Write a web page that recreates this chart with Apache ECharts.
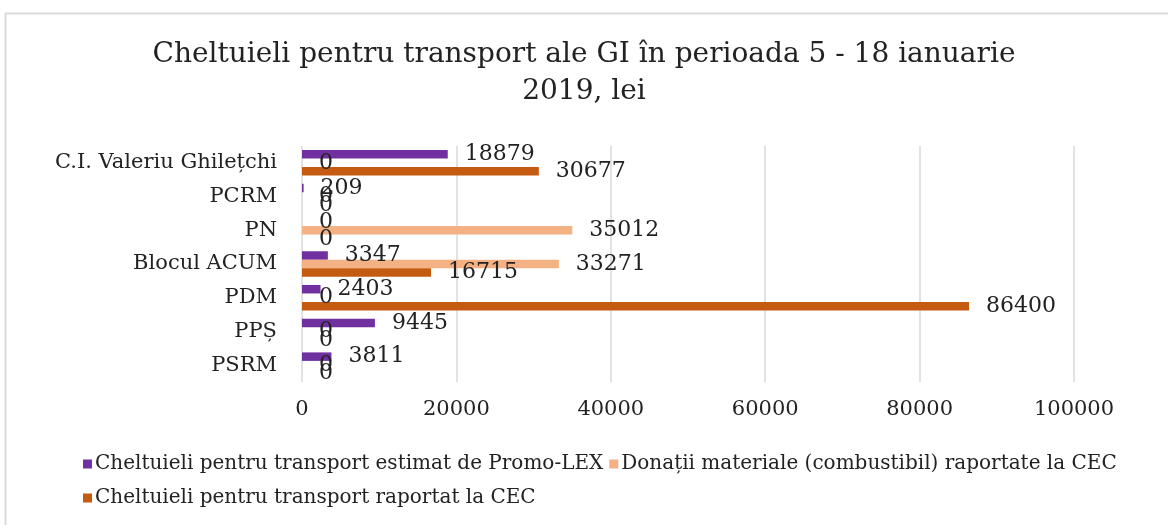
<!DOCTYPE html>
<html>
<head>
<meta charset="utf-8">
<script src="https://cdn.jsdelivr.net/npm/echarts@6/dist/echarts.min.js"></script>
<style>
  html, body { margin: 0; padding: 0; background: #fff; }
  #chart { width: 1168px; height: 525px; }
</style>
</head>
<body>
<div id="chart"></div>
<script>
var categories = ['PSRM', 'PPȘ', 'PDM', 'Blocul ACUM', 'PN', 'PCRM', 'C.I. Valeriu Ghilețchi'];
var estimatPromoLex = [3811, 9445, 2403, 3347, 0, 209, 18879];
var donatiiCombustibil = [0, 0, 0, 33271, 35012, 0, 0];
var raportatCEC = [0, 0, 86400, 16715, 0, 0, 30677];
var xTicks = [0, 20000, 40000, 60000, 80000, 100000];

var names = [
    'Cheltuieli pentru transport estimat de Promo-LEX',
    'Donații materiale (combustibil) raportate la CEC',
    'Cheltuieli pentru transport raportat la CEC'
];
var colors = ['#7030a0', '#f4b183', '#c55a11'];
var serif = '"DejaVu Serif", serif';

var myChart = echarts.init(document.getElementById('chart'));

function makeSeries(idx, data) {
    return {
        name: names[idx],
        type: 'bar',
        data: data,
        barWidth: 8.5,
        barGap: '0%',
        itemStyle: { color: colors[idx] },
        label: {
            show: true,
            position: 'right',
            distance: 17,
            color: '#222',
            fontFamily: serif,
            fontSize: 22
        }
    };
}

var option = {
    animation: false,
    title: {
        text: 'Cheltuieli pentru transport ale GI în perioada 5 - 18 ianuarie\n2019, lei',
        left: 'center',
        top: 31,
        textStyle: {
            fontFamily: serif,
            fontWeight: 'normal',
            fontSize: 28,
            lineHeight: 37,
            color: '#222'
        }
    },
    legend: {
        data: names,
        left: 78,
        top: 445,
        width: 1080,
        itemWidth: 9,
        itemHeight: 9,
        itemGap: 6,
        icon: 'rect',
        textStyle: { fontFamily: serif, fontSize: 20, color: '#222', lineHeight: 28, padding: [0, 0, 0, -2] }
    },
    grid: { left: 302, right: 94, top: 146, bottom: 143 },
    xAxis: {
        type: 'value',
        min: xTicks[0],
        max: xTicks[xTicks.length - 1],
        interval: xTicks[1] - xTicks[0],
        axisLine: { show: false },
        axisTick: { show: false },
        splitLine: { lineStyle: { color: '#d9d9d9', width: 1.5 } },
        axisLabel: {
            fontFamily: serif, fontSize: 21, color: '#222', margin: 17,
            formatter: function (v) { return String(v); }
        }
    },
    yAxis: {
        type: 'category',
        data: categories,
        axisLine: { show: false },
        axisTick: { show: false },
        axisLabel: { fontFamily: serif, fontSize: 21, color: '#222', margin: 25 }
    },
    graphic: [{
        type: 'rect',
        shape: { x: 5.5, y: 13.5, width: 1200, height: 600 },
        style: { fill: 'none', stroke: '#d9d9d9', lineWidth: 2 },
        silent: true,
        z: -1
    }],
    series: [
        makeSeries(0, estimatPromoLex),
        makeSeries(1, donatiiCombustibil),
        makeSeries(2, raportatCEC)
    ]
};

myChart.setOption(option);
</script>
</body>
</html>
